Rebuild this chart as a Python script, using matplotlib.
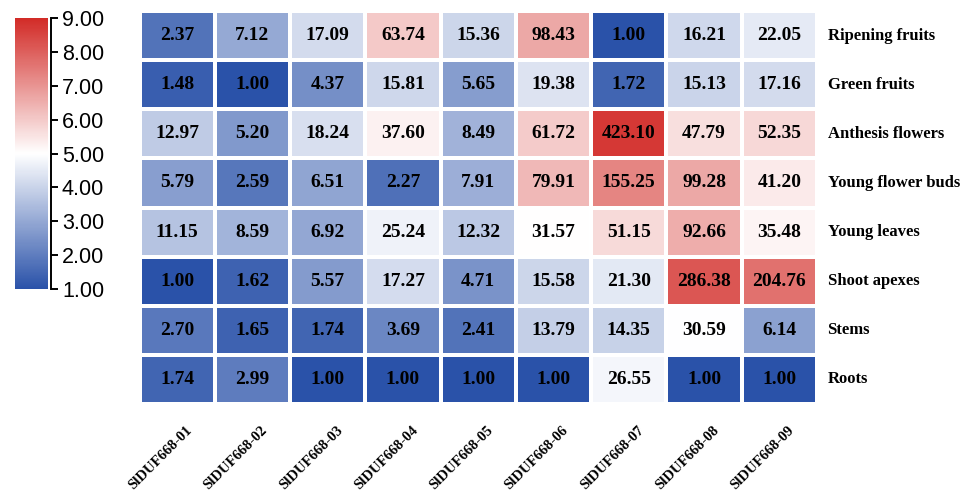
import numpy as np
import matplotlib
matplotlib.use('Agg')
import matplotlib.pyplot as plt
from matplotlib.colors import LinearSegmentedColormap, Normalize

# Data

tissues = ['Ripening fruits', 'Green fruits', 'Anthesis flowers', 'Young flower buds',
           'Young leaves', 'Shoot apexes', 'Stems', 'Roots']
genes = ['SlDUF668-01', 'SlDUF668-02', 'SlDUF668-03', 'SlDUF668-04', 'SlDUF668-05',
         'SlDUF668-06', 'SlDUF668-07', 'SlDUF668-08', 'SlDUF668-09']

ripening_fruits = [2.37, 7.12, 17.09, 63.74, 15.36, 98.43, 1.00, 16.21, 22.05]
green_fruits = [1.48, 1.00, 4.37, 15.81, 5.65, 19.38, 1.72, 15.13, 17.16]
anthesis_flowers = [12.97, 5.20, 18.24, 37.60, 8.49, 61.72, 423.10, 47.79, 52.35]
young_flower_buds = [5.79, 2.59, 6.51, 2.27, 7.91, 79.91, 155.25, 99.28, 41.20]
young_leaves = [11.15, 8.59, 6.92, 25.24, 12.32, 31.57, 51.15, 92.66, 35.48]
shoot_apexes = [1.00, 1.62, 5.57, 17.27, 4.71, 15.58, 21.30, 286.38, 204.76]
stems = [2.70, 1.65, 1.74, 3.69, 2.41, 13.79, 14.35, 30.59, 6.14]
roots = [1.74, 2.99, 1.00, 1.00, 1.00, 1.00, 26.55, 1.00, 1.00]

cbar_ticks = [1, 2, 3, 4, 5, 6, 7, 8, 9]

values = np.array([ripening_fruits, green_fruits, anthesis_flowers, young_flower_buds,
                   young_leaves, shoot_apexes, stems, roots])
colour_val = np.log2(values + 1)

# Canvas & colours

fig = plt.figure(figsize=(9.69, 4.92), dpi=100)
W, H = 969, 492

cmap = LinearSegmentedColormap.from_list('bwr2', ['#2A52A9', '#FFFFFF', '#D22B27'])
norm = Normalize(vmin=1, vmax=9)

serif = 'Liberation Serif'

# Heatmap

ax = fig.add_axes([139.5 / W, 1 - 404 / H, (817 - 139.5) / W, (404 - 11) / H])
mesh = ax.pcolormesh(colour_val, cmap=cmap, norm=norm, edgecolors='white', linewidth=1.5)
ax.set_xlim(0, len(genes))
ax.set_ylim(len(tissues), 0)
for s in ax.spines.values():
    s.set_visible(False)
ax.set_xticks([])
ax.set_yticks([])

for i in range(len(tissues)):
    for j in range(len(genes)):
        ax.text(j + 0.5, i + 0.5, '%.2f' % values[i, j], ha='center', va='center',
                fontsize=14, fontweight='bold', family=serif, color='black')

for i, t in enumerate(tissues):
    ax.text(len(genes) + 0.14, i + 0.5, t, ha='left', va='center',
            fontsize=12, fontweight='bold', family=serif)

for j, g in enumerate(genes):
    ax.text(j + 0.5 + 0.17, len(tissues) + 0.5, g, ha='right', va='center',
            rotation=45, rotation_mode='anchor',
            fontsize=10.5, fontweight='bold', family=serif)

# Colorbar

cax = fig.add_axes([15 / W, 1 - 289 / H, (48 - 15) / W, (289 - 18) / H])
cbar = fig.colorbar(mesh, cax=cax)
cbar.outline.set_visible(False)
cbar.set_ticks(cbar_ticks)
cbar.ax.set_yticklabels(['%.2f' % t for t in cbar_ticks])
cax.spines['right'].set_visible(True)
cax.spines['right'].set_position(('outward', 2.5))
cax.spines['right'].set_linewidth(1.4)
cax.tick_params(axis='y', direction='out', length=5, width=1.4, pad=2.5,
                labelsize=15.5, labelfontfamily='Liberation Sans')

fig.savefig('out.png', dpi=100)
